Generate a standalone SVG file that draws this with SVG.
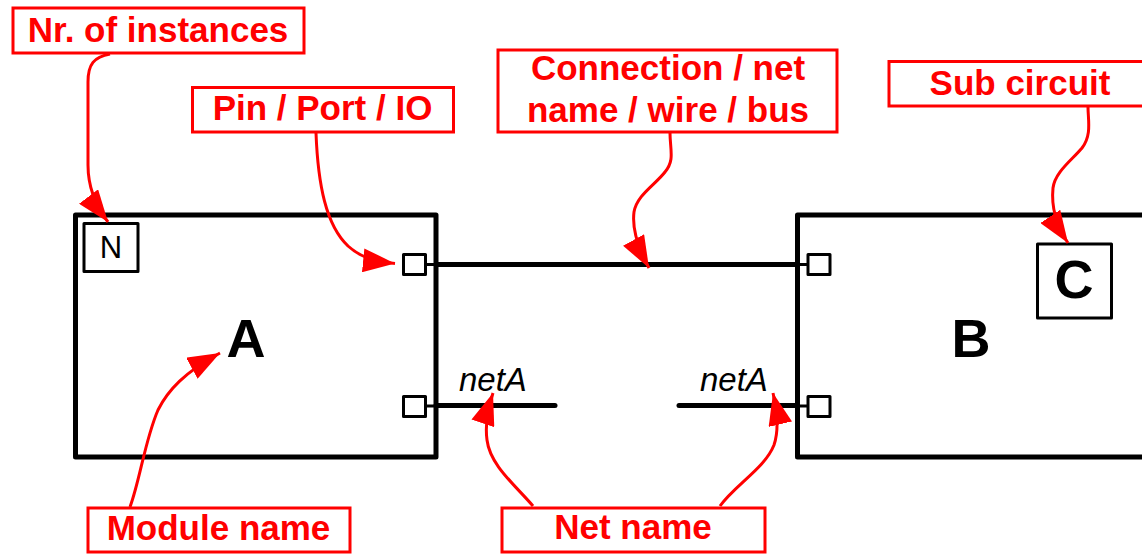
<svg xmlns="http://www.w3.org/2000/svg" width="1142" height="554" viewBox="0 0 1142 554">
<style>
.mod{fill:none;stroke:#000;stroke-width:5;stroke-linejoin:round}
.pin{fill:#fff;stroke:#000;stroke-width:3;stroke-linejoin:round}
.stub{stroke:#000;stroke-width:3}
.net{stroke:#000;stroke-width:5;fill:none}
.lbl{fill:#fff;stroke:#f00;stroke-width:3}
.lt{font-family:"Liberation Sans",Arial,sans-serif;font-weight:bold;font-size:35px;fill:#f00;text-anchor:middle}
.big{font-family:"Liberation Sans",Arial,sans-serif;font-weight:bold;font-size:54px;fill:#000;text-anchor:middle}
.nt{font-family:"Liberation Sans",Arial,sans-serif;font-style:italic;font-size:33px;fill:#000}
.arr{fill:none;stroke:#f00;stroke-width:3}
</style>
<defs>
<marker id="ah" markerUnits="userSpaceOnUse" markerWidth="32" markerHeight="24" refX="32" refY="12" orient="auto" viewBox="0 0 32 24">
<path d="M0,0 L32,12 L0,24 z" fill="#f00"/>
</marker>
</defs>
<g id="moduleA">
<rect class="mod" x="75.5" y="215" width="360.5" height="242"/>
<rect class="pin" x="84" y="223.5" width="54" height="48"/>
<text x="111" y="258" style="font-family:'Liberation Sans',Arial,sans-serif;font-size:31px;text-anchor:middle">N</text>
<text class="big" x="246" y="357">A</text>
<line class="stub" x1="425" y1="264.5" x2="436" y2="264.5"/>
<rect class="pin" x="403.5" y="254.5" width="22" height="20"/>
<line class="stub" x1="425" y1="406" x2="436" y2="406"/>
<rect class="pin" x="403.5" y="396.5" width="22" height="20"/>
</g>
<g id="moduleB">
<rect class="mod" x="797.5" y="215" width="360" height="242"/>
<text class="big" x="971" y="357">B</text>
<line class="stub" x1="797" y1="264.5" x2="808" y2="264.5"/>
<rect class="pin" x="808" y="254.5" width="22" height="20"/>
<line class="stub" x1="797" y1="406" x2="808" y2="406"/>
<rect class="pin" x="808" y="396.5" width="22" height="20"/>
</g>
<g id="subC">
<rect class="pin" x="1037.5" y="244" width="74" height="74"/>
<text class="big" x="1074" y="298">C</text>
</g>
<g id="nets">
<line class="net" x1="436" y1="264.5" x2="797" y2="264.5"/>
<line class="net" x1="436" y1="405.5" x2="555" y2="405.5" stroke-linecap="round"/>
<line class="net" x1="679" y1="405.5" x2="797" y2="405.5" stroke-linecap="round"/>
<text class="nt" x="459" y="391">netA</text>
<text class="nt" x="700" y="391">netA</text>
</g>
<g id="label-instances">
<rect class="lbl" x="13" y="8" width="291" height="45"/>
<text class="lt" x="158" y="42">Nr. of instances</text>
</g>
<g id="label-pin">
<rect class="lbl" x="192.5" y="87.5" width="261" height="44.5"/>
<text class="lt" x="322.5" y="120">Pin / Port / IO</text>
</g>
<g id="label-connection">
<rect class="lbl" x="498" y="50" width="339" height="82"/>
<text class="lt" x="668" y="80">Connection / net</text>
<text class="lt" x="668" y="122">name / wire / bus</text>
</g>
<g id="label-sub">
<rect class="lbl" x="889" y="61.5" width="270" height="44.5"/>
<text class="lt" x="1020" y="95">Sub circuit</text>
</g>
<g id="label-module">
<rect class="lbl" x="88" y="508" width="262" height="44"/>
<text class="lt" x="218.5" y="540">Module name</text>
</g>
<g id="label-netname">
<rect class="lbl" x="502" y="508" width="263" height="44"/>
<text class="lt" x="633" y="539">Net name</text>
</g>
<g id="connectors">
<path class="arr" marker-end="url(#ah)" d="M110,54 C94,57 88,64 88,82 L88,165 C88,185 95,205 108,222"/>
<path class="arr" marker-end="url(#ah)" d="M316,133 C318,185 326,225 348,246 C358,255 370,261 395,263.5"/>
<path class="arr" marker-end="url(#ah)" d="M670,133 C670,150 675,160 665,172 C655,185 637,195 634,212 C632,228 638,248 649,268"/>
<path class="arr" marker-end="url(#ah)" d="M1088,107 C1088,120 1092,135 1082,148 C1072,160 1055,172 1053,188 C1051,208 1058,228 1068,243"/>
<path class="arr" marker-end="url(#ah)" d="M130,507 C140,480 145,440 158,410 C168,390 185,372 220,353"/>
<path class="arr" marker-end="url(#ah)" d="M533,506 C515,485 490,465 487,440 C485,425 488,408 493,393"/>
<path class="arr" marker-end="url(#ah)" d="M720,506 C735,485 765,468 774,445 C779,430 777,410 773,393"/>
</g>
</svg>
